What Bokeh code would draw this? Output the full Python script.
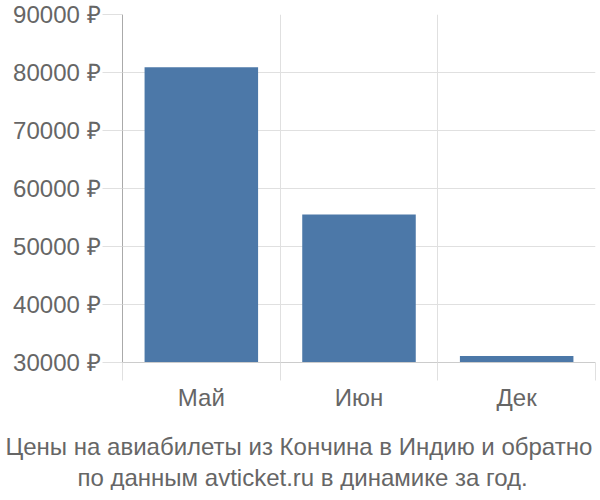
import numpy as np
from bokeh.models import ColumnDataSource, FixedTicker, PrintfTickFormatter, Range1d, Title
from bokeh.plotting import figure
from bokeh.embed import file_html
from bokeh.resources import INLINE

months = ['Май', 'Июн', 'Дек']
prices = [80900, 55500, 31100]
y_ticks = [30000, 40000, 50000, 60000, 70000, 80000, 90000]
title_lines = ['Цены на авиабилеты из Кончина в Индию и обратно',
               'по данным avticket.ru в динамике за год.']

centers = np.arange(len(months)) + 0.5
source = ColumnDataSource(data={'x': centers, 'top': prices})

FONT = 'Liberation Sans'
GREY = '#666666'

p = figure(width=598, height=490, output_backend="svg", toolbar_location=None,
           x_range=Range1d(0, len(months)), y_range=Range1d(y_ticks[0], y_ticks[-1]),
           min_border_left=122, min_border_right=3, min_border_top=14, min_border_bottom=100)
p.outline_line_color = None

p.vbar(x='x', top='top', bottom=y_ticks[0], width=0.72, source=source,
       fill_color='#4c78a8', line_color=None)

# y axis
p.yaxis.ticker = FixedTicker(ticks=y_ticks)
p.yaxis.formatter = PrintfTickFormatter(format="%d ₽")
p.yaxis.axis_line_color = '#aaaaaa'
p.yaxis.major_tick_in = 0
p.yaxis.major_tick_out = 20
p.yaxis.major_tick_line_color = '#e0e0e0'
p.yaxis.minor_tick_line_color = None
p.yaxis.major_label_standoff = 2
p.yaxis.major_label_text_font = FONT
p.yaxis.major_label_text_font_size = '24px'
p.yaxis.major_label_text_color = GREY
p.ygrid.grid_line_color = '#e0e0e0'

# x axis: labels at the centers, lines at the boundaries
bounds = list(range(len(months) + 1))
p.xaxis.ticker = FixedTicker(ticks=list(centers), minor_ticks=bounds)
p.xaxis.major_label_overrides = {float(c): m for c, m in zip(centers, months)}
p.xaxis.major_tick_line_color = None
p.xaxis.minor_tick_in = 0
p.xaxis.minor_tick_out = 18
p.xaxis.minor_tick_line_color = '#e0e0e0'
p.xaxis.axis_line_color = '#cccccc'
p.xaxis.major_label_standoff = 3
p.xaxis.major_label_text_font = FONT
p.xaxis.major_label_text_font_size = '24px'
p.xaxis.major_label_text_color = GREY
# blank axis label only to leave room above the caption
p.xaxis.axis_label = ' '
p.xaxis.axis_label_text_font_size = '10px'
p.xaxis.axis_label_standoff = 1
p.xgrid.grid_line_color = None
p.xgrid.minor_grid_line_color = '#e0e0e0'

# two-line caption under the chart, centred on the whole canvas
for line, off, gap in zip(title_lines, [-117, -45], [4, 0]):
    p.add_layout(Title(text=line, align='left', offset=off, standoff=gap,
                       text_font=FONT, text_font_size='24px', text_font_style='normal',
                       text_color=GREY), 'below')

open("out.html", "w").write(file_html(p, INLINE))
